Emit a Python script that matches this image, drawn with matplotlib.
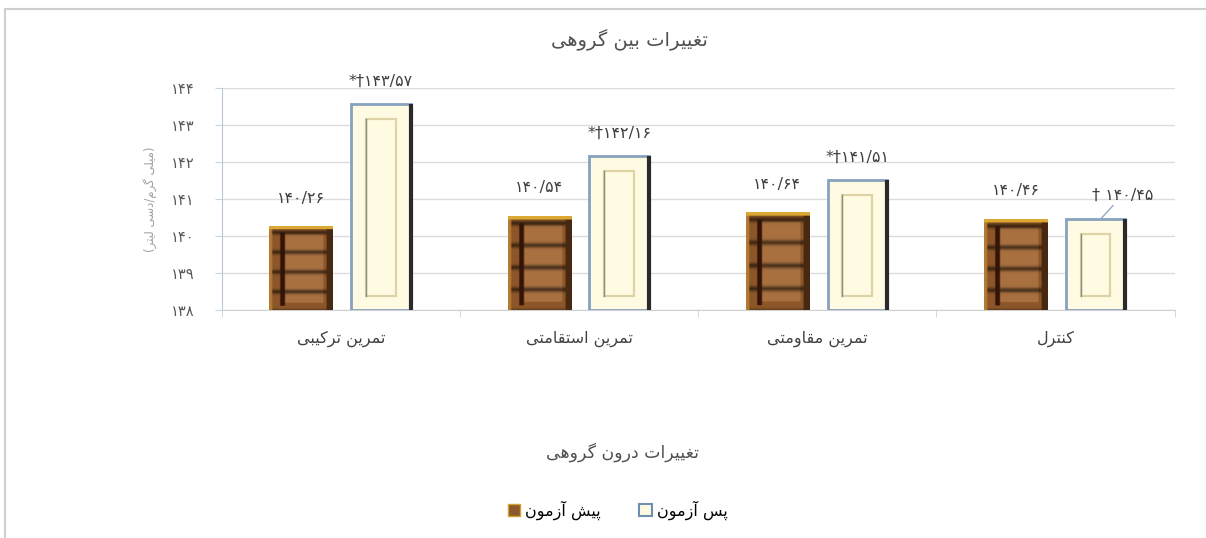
import numpy as np
import matplotlib
matplotlib.use("Agg")
import matplotlib.pyplot as plt
from matplotlib.patches import Rectangle, Patch
from matplotlib.lines import Line2D

plt.rcParams['font.family'] = ['DejaVu Sans']

# data
categories = ['تمرین ترکیبی', 'تمرین استقامتی', 'تمرین مقاومتی', 'کنترل']
pre_vals = [140.26, 140.54, 140.64, 140.46]
post_vals = [143.57, 142.16, 141.51, 140.45]
post_marks = ['*†', '*†', '*†', '† ']
series_names = ['پیش آزمون', 'پس آزمون']
yticks = [138, 139, 140, 141, 142, 143, 144]
title = 'تغییرات بین گروهی'
xtitle = 'تغییرات درون گروهی'
ylabel = '(میلی گرم/دسی لیتر)'

# small arabic shaper (matplotlib has no bidi / joining)
FORMS = {
    '\u0622': ('\uFE81', '\uFE82', None, None),
    '\u0627': ('\uFE8D', '\uFE8E', None, None),
    '\u0628': ('\uFE8F', '\uFE90', '\uFE91', '\uFE92'),
    '\u067E': ('\uFB56', '\uFB57', '\uFB58', '\uFB59'),
    '\u062A': ('\uFE95', '\uFE96', '\uFE97', '\uFE98'),
    '\u062F': ('\uFEA9', '\uFEAA', None, None),
    '\u0631': ('\uFEAD', '\uFEAE', None, None),
    '\u0632': ('\uFEAF', '\uFEB0', None, None),
    '\u0633': ('\uFEB1', '\uFEB2', '\uFEB3', '\uFEB4'),
    '\u0634': ('\uFEB5', '\uFEB6', '\uFEB7', '\uFEB8'),
    '\u063A': ('\uFECD', '\uFECE', '\uFECF', '\uFED0'),
    '\u0641': ('\uFED1', '\uFED2', '\uFED3', '\uFED4'),
    '\u0642': ('\uFED5', '\uFED6', '\uFED7', '\uFED8'),
    '\u06A9': ('\uFB8E', '\uFB8F', '\uFB90', '\uFB91'),
    '\u06AF': ('\uFB92', '\uFB93', '\uFB94', '\uFB95'),
    '\u0644': ('\uFEDD', '\uFEDE', '\uFEDF', '\uFEE0'),
    '\u0645': ('\uFEE1', '\uFEE2', '\uFEE3', '\uFEE4'),
    '\u0646': ('\uFEE5', '\uFEE6', '\uFEE7', '\uFEE8'),
    '\u0647': ('\uFEE9', '\uFEEA', '\uFEEB', '\uFEEC'),
    '\u0648': ('\uFEED', '\uFEEE', None, None),
    '\u06CC': ('\uFBFC', '\uFBFD', '\uFBFE', '\uFBFF'),
}


def shape(text):
    out = []
    for i, c in enumerate(text):
        if c not in FORMS:
            out.append(c)
            continue
        prev = text[i - 1] if i > 0 else None
        nxt = text[i + 1] if i + 1 < len(text) else None
        jp = prev in FORMS and FORMS[prev][2] is not None
        jn = FORMS[c][2] is not None and nxt in FORMS
        iso, fin, ini, med = FORMS[c]
        out.append(med if (jp and jn) else fin if jp else ini if jn else iso)
    s = ''.join(out).replace('\u200c', '')[::-1]
    return s.translate(str.maketrans('()', ')('))


def fa_num(v, fmt='{:.2f}'):
    s = fmt.format(v).replace('.', '/')
    return s.translate(str.maketrans('0123456789', '۰۱۲۳۴۵۶۷۸۹'))


fig = plt.figure(figsize=(12.06, 5.38), dpi=100)
ax = fig.add_axes([0.184, 0.424, 0.79, 0.412])

x = np.arange(len(categories))
off = 0.168
base = yticks[0]
pre_bars = ax.bar(x - off, np.array(pre_vals) - base, 0.265, bottom=base,
                  color='#8a5a2e', edgecolor='none', zorder=3)
post_bars = ax.bar(x + off, np.array(post_vals) - base, 0.25, bottom=base,
                   color='#fffbe3', edgecolor='#86a2be', linewidth=2, zorder=3)

# wood-like texture for pre bars
H, W = 80, 40
vv = np.linspace(0, 1, H)[:, None]
uu = np.linspace(0, 1, W)[None, :]
tex = np.ones((H, W, 3)) * np.array([0.55, 0.34, 0.16])
panel = (uu > 0.22) & (uu < 0.86) & (vv > 0.08) & (vv < 0.9)
tex[panel] = [0.66, 0.44, 0.25]
band = (0.5 + 0.5 * np.cos(2 * np.pi * (vv * 4.2 + 0.1))) ** 8
tex = tex * (1 - 0.55 * band)[:, :, None] * np.ones((1, W, 1))
tex[(uu > 0.17) & (uu < 0.24) & (vv > 0.05) & (vv < 0.93)] = [0.20, 0.08, 0.03]
tex[:, uu[0] > 0.92] = [0.28, 0.16, 0.07]
tex[:, uu[0] < 0.05] = [0.70, 0.48, 0.20]
tex[vv[:, 0] > 0.965, :] = [0.86, 0.66, 0.20]
tex = np.clip(tex, 0, 1)

for b in pre_bars:
    x0, y0, w, h = b.get_x(), b.get_y(), b.get_width(), b.get_height()
    im = ax.imshow(tex, extent=(x0, x0 + w, y0, y0 + h), origin='lower',
                   aspect='auto', zorder=4, interpolation='bilinear')
    im.set_clip_path(b)

for b in post_bars:
    x0, y0, w, h = b.get_x(), b.get_y(), b.get_width(), b.get_height()
    ax.add_patch(Rectangle((x0 + 0.25 * w, y0 + 0.38), 0.5 * w, h - 0.78,
                           fill=False, edgecolor='#ddd3a4', linewidth=1.6, zorder=4))
    ax.plot([x0 + 0.25 * w] * 2, [y0 + 0.38, y0 + h - 0.4], color='#8f8f80',
            linewidth=1, zorder=5)
    ax.plot([x0 + w] * 2, [y0, y0 + h], color='#2a2a2a', linewidth=3,
            zorder=5, solid_capstyle='butt')

# value labels
for b, v in zip(pre_bars, pre_vals):
    ax.annotate(fa_num(v), (b.get_x() + b.get_width() / 2, v),
                xytext=(0, 15), textcoords='offset points', ha='center',
                va='bottom', fontsize=11.5, color='#404040')
for i, (b, v, m) in enumerate(zip(post_bars, post_vals, post_marks)):
    cx = b.get_x() + b.get_width() / 2
    if i == len(post_vals) - 1:
        ax.annotate(m + fa_num(v), (cx + 0.02, v), xytext=(16, 12),
                    textcoords='offset points', ha='center', va='bottom',
                    fontsize=11.5, color='#404040',
                    arrowprops=dict(arrowstyle='-', color='#8faac4', lw=1,
                                    shrinkA=0, shrinkB=0))
    else:
        ax.annotate(m + fa_num(v), (cx, v), xytext=(0, 11),
                    textcoords='offset points', ha='center', va='bottom',
                    fontsize=11.5, color='#404040')

ax.set_xlim(-0.5, len(categories) - 0.5)
ax.set_ylim(yticks[0], yticks[-1])
ax.set_yticks(yticks)
ax.set_yticklabels([fa_num(t, '{:.0f}') for t in yticks], fontsize=10.5, color='#595959')
ax.set_xticks(x)
ax.set_xticklabels([shape(c) for c in categories], fontsize=11.5, color='#404040')
ax.set_xticks(np.arange(-0.5, len(categories)), minor=True)
ax.tick_params(axis='x', which='major', length=0, pad=15)
ax.tick_params(axis='x', which='minor', length=5, color='#d0d0d0')
ax.tick_params(axis='y', length=5, color='#c8d4e0', pad=15)
ax.grid(axis='y', color='#dcdcdc', linewidth=1, zorder=0)
ax.set_axisbelow(True)
for s in ['top', 'right']:
    ax.spines[s].set_visible(False)
ax.spines['left'].set_color('#b8c8d8')
ax.spines['bottom'].set_color('#d0d0d0')

ax.set_ylabel(shape(ylabel), fontsize=8.5, color='#a0a0a0', labelpad=10)

fig.text(0.522, 0.925, shape(title), ha='center', va='center', fontsize=14, color='#505050')
fig.text(0.516, 0.16, shape(xtitle), ha='center', va='center', fontsize=12.5, color='#505050')

handles = [Patch(facecolor='#8a5a2e', edgecolor='#d4a030', linewidth=1),
           Patch(facecolor='#fffbe3', edgecolor='#6f8fb0', linewidth=1.5)]
fig.legend(handles, [shape(n) for n in series_names], loc='center', ncol=2,
           bbox_to_anchor=(0.512, 0.052), frameon=False, fontsize=11.5,
           handlelength=0.8, handleheight=0.8, handletextpad=0.3, columnspacing=2.4)

# outer frame (top and left edges only)
fig.lines.append(Line2D([5 / 1206, 1], [1 - 9 / 538] * 2, transform=fig.transFigure,
                        color='#cfcfcf', linewidth=1.5))
fig.lines.append(Line2D([5 / 1206] * 2, [0, 1 - 9 / 538], transform=fig.transFigure,
                        color='#cfcfcf', linewidth=1.5))

fig.savefig('out.png', dpi=100)
